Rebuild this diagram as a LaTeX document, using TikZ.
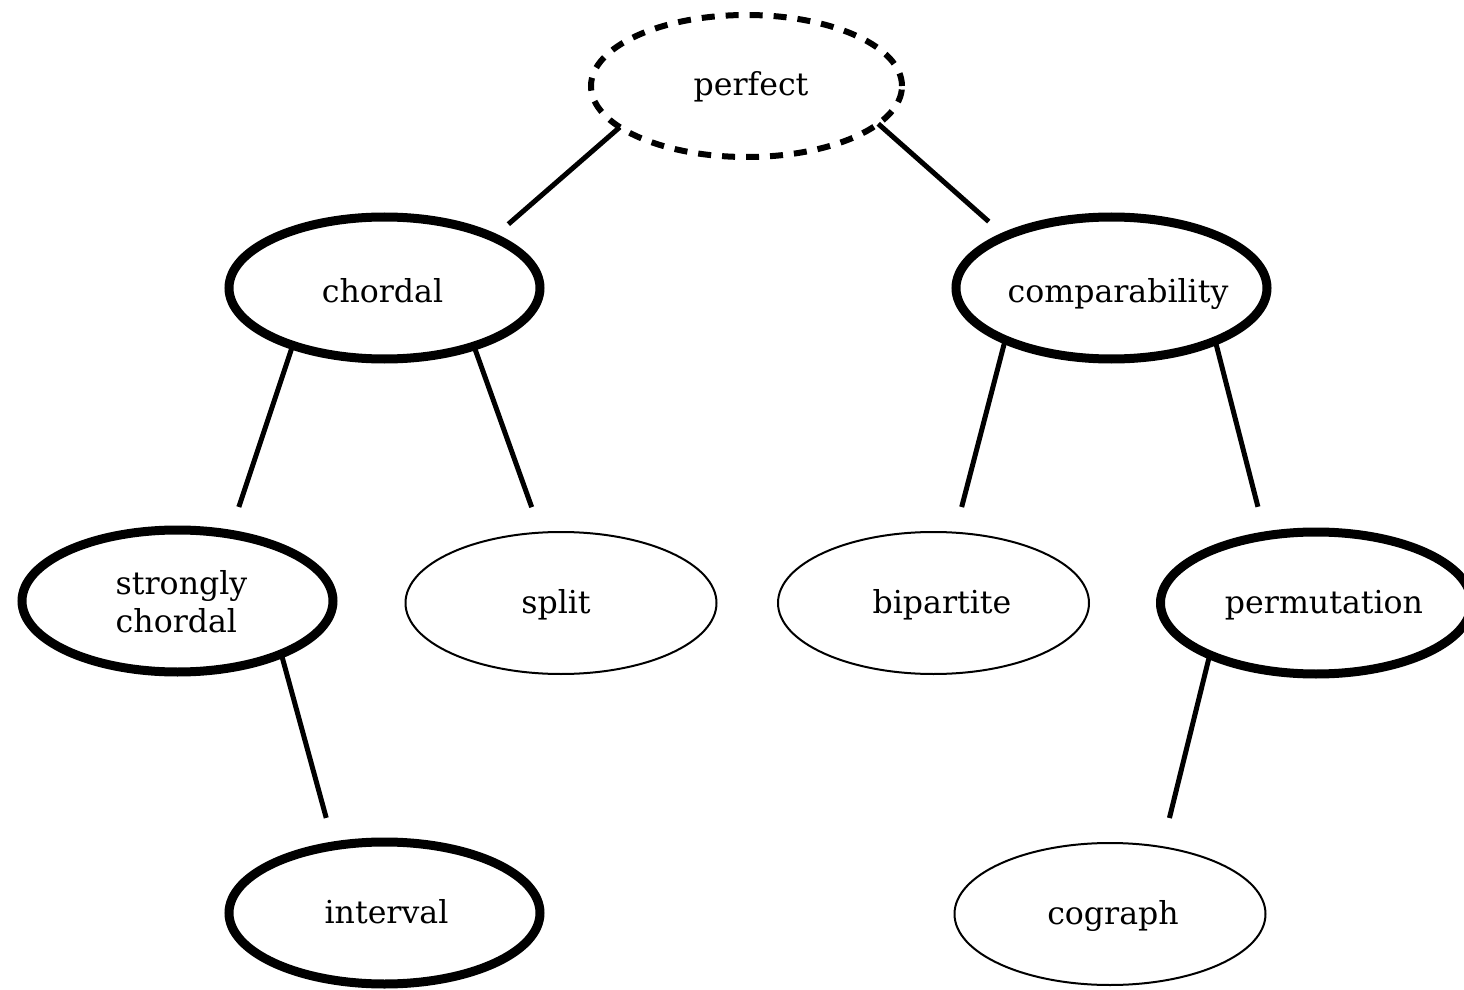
\documentclass[tikz,border=0pt]{standalone}
\usepackage{fontspec}
\setmainfont{DejaVu Serif}
\usetikzlibrary{shapes.geometric}
\newcommand\lbl[2][0pt]{\makebox[0pt]{\hspace*{#1}\hspace*{#1}#2}}
\begin{document}
\begin{tikzpicture}[x=0.5pt,y=-0.5pt,
  gnode/.style={ellipse, minimum width=155.5pt, minimum height=71pt, inner sep=0pt, outer sep=0pt,
                text height=10pt, text depth=0pt, font=\fontsize{15.8pt}{19pt}\selectfont},
  boldell/.style={gnode, draw, line width=4.5pt},
  thinell/.style={gnode, draw, line width=1pt},
  dashell/.style={gnode, draw, line width=3pt, dash pattern=on 6.5pt off 5.5pt},
  link/.style={line width=2.5pt}]
\useasboundingbox (0,0) rectangle (1464,990);
\node[dashell] (perfect) at (746.5,86) {\lbl[2.25pt]{perfect}};
\node[boldell, text height=14pt] (chordal) at (384.5,288) {\lbl[-1pt]{chordal}};
\node[boldell, text height=14pt] (comp) at (1111.5,288) {\lbl[3.25pt]{comparability}};
\node[boldell] (strong) at (177.5,601) {\lbl[2pt]{\raisebox{-1.2pt}{\begin{tabular}{@{}l@{}}strongly\\chordal\end{tabular}}}};
\node[thinell] (split) at (561,603) {\lbl[-2.5pt]{split}};
\node[thinell] (bip) at (933.5,603) {\lbl[4.25pt]{bipartite}};
\node[boldell] (perm) at (1316,603) {\lbl[4pt]{permutation}};
\node[boldell] (interval) at (384.5,913) {\lbl[1pt]{interval}};
\node[thinell] (cograph) at (1110,914) {\lbl[1.5pt]{cograph}};
\draw[link, shorten >=10pt] (perfect.198.8) -- (chordal.25.3);
\draw[link, shorten >=11pt] (perfect.-16.2) -- (comp.154.3);
\draw[link, shorten >=14.3pt] (chordal.212.9) -- (strong.52.1);
\draw[link, shorten >=13.5pt] (chordal.-33) -- (split.106.5);
\draw[link, shorten >=13.25pt] (comp.206.4) -- (bip.73.7);
\draw[link, shorten >=15pt] (comp.-27.5) -- (perm.127.5);
\draw[link, shorten >=14.5pt] (strong.-27.3) -- (interval.127.8);
\draw[link, shorten >=15pt] (perm.206.6) -- (cograph.52.5);
\end{tikzpicture}
\end{document}
